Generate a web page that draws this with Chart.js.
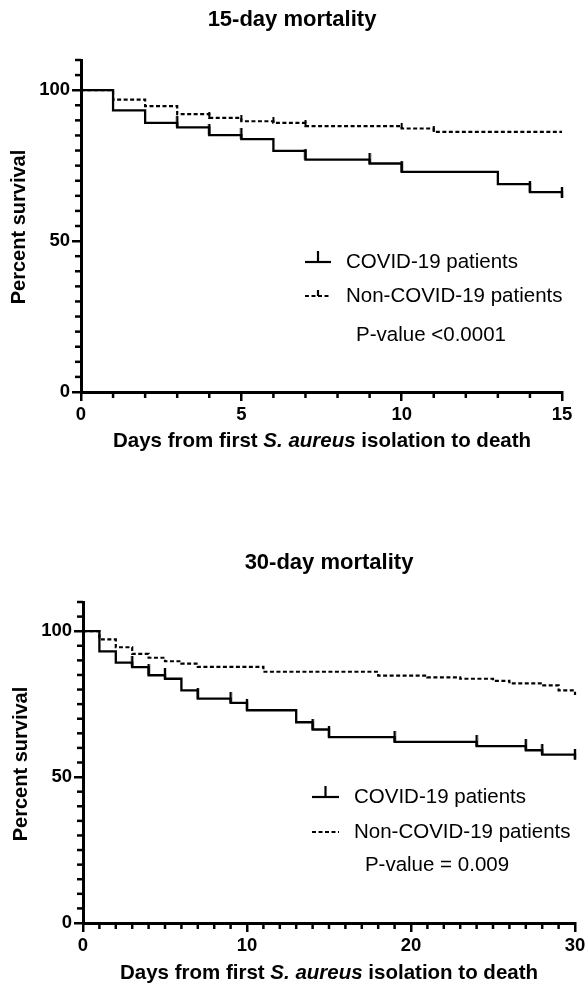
<!DOCTYPE html>
<html>
<head>
<meta charset="utf-8">
<script src="https://cdn.jsdelivr.net/npm/chart.js@4.4.1/dist/chart.umd.min.js"></script>
<style>
  html, body { margin: 0; padding: 0; background: #fff; }
  #wrap { position: relative; width: 585px; height: 994px; }
  canvas { position: absolute; left: 0; }
</style>
</head>
<body>
<div id="wrap">
  <canvas id="c15" width="585" height="470" style="top:0"></canvas>
  <canvas id="c30" width="585" height="524" style="top:470px"></canvas>
</div>
<script>
// ── Data ────────────────────────────────────────────────────
const days15Covid = [0, 1, 2, 3, 4, 5, 6, 7, 9, 10, 13, 14, 15];
const surv15Covid = [100, 93.3, 89.2, 87.7, 85.1, 83.8, 79.9, 77.0, 75.7, 72.9, 68.9, 66.2, 64.3];
const days15Non   = [0, 1, 2, 3, 4, 5, 6, 7, 10, 11, 15];
const surv15Non   = [100, 96.9, 94.7, 92.1, 90.8, 89.7, 89.2, 88.1, 87.3, 86.2, 86.2];
const cens15Covid = [3, 4, 5, 7, 9, 10, 14, 15];
const cens15Non   = [4, 5, 6, 7, 10, 11];

const days30Covid = [0, 1, 2, 3, 4, 5, 6, 7, 9, 10, 13, 14, 15, 19, 24, 27, 28, 30];
const surv30Covid = [100, 93.1, 89.2, 87.7, 84.9, 83.7, 79.7, 76.9, 75.4, 72.9, 68.8, 66.3, 63.7, 62.1, 60.6, 59.2, 57.7, 56.0];
const days30Non   = [0, 1, 2, 3, 4, 5, 6, 7, 11, 18, 21, 23, 25, 26, 28, 29, 30];
const surv30Non   = [100, 97.2, 94.5, 92.2, 90.9, 89.7, 88.9, 87.8, 86.1, 84.8, 84.2, 83.7, 83.0, 82.1, 81.4, 79.7, 78.1];
const cens30Covid = [3, 4, 5, 7, 9, 10, 14, 15, 19, 24, 27, 28, 30];
const cens30Non   = [];

const xTicks15 = [0, 5, 10, 15];
const xTicks30 = [0, 10, 20, 30];
const yTicks   = [0, 50, 100];
const yMax     = 110;

const legendLabels = ['COVID-19 patients', 'Non-COVID-19 patients'];

const FONT = "'Liberation Sans', Arial, Helvetica, sans-serif";

// ── Helpers ─────────────────────────────────────────────────
function tickMark(len, w) {
  const c = document.createElement('canvas');
  c.width = 4; c.height = len * 2;
  const g = c.getContext('2d');
  g.fillStyle = '#000';
  g.fillRect((4 - w) / 2, 0, w, len);
  return c;
}

function survAt(days, surv, t) {
  let v = surv[0];
  days.forEach((d, i) => { if (d <= t) v = surv[i]; });
  return v;
}

function seg(ctx, x1, y1, x2, y2) {
  ctx.beginPath(); ctx.moveTo(x1, y1); ctx.lineTo(x2, y2); ctx.stroke();
}

// ── Decorations: minor ticks, titles, legend ────────────────
const decor = {
  id: 'decor',
  afterDraw(chart) {
    const o = chart.options.plugins.decor;
    const { ctx, chartArea: a, scales: { x, y } } = chart;
    ctx.save();
    ctx.strokeStyle = '#000';
    ctx.fillStyle = '#000';
    ctx.lineWidth = 2.5;

    // minor ticks
    for (let v = 0; v <= o.xMax; v++) {
      if (o.xTicks.includes(v)) continue;
      const px = x.getPixelForValue(v);
      seg(ctx, px, a.bottom, px, a.bottom + 6);
    }
    for (let v = 0; v <= yMax; v += 5) {
      if (yTicks.includes(v)) continue;
      const py = y.getPixelForValue(v);
      seg(ctx, a.left, py, a.left - 6, py);
    }

    // chart title
    ctx.textBaseline = 'middle';
    ctx.textAlign = 'center';
    ctx.font = `bold 22px ${FONT}`;
    ctx.fillText(o.title, o.titleX, o.titleY);

    // y title
    ctx.save();
    ctx.translate(o.yTitleX, o.yTitleY);
    ctx.rotate(-Math.PI / 2);
    ctx.font = `bold 20px ${FONT}`;
    ctx.fillText('Percent survival', 0, 0);
    ctx.restore();

    // x title with italic species name
    const parts = [
      { t: 'Days from first ', f: `bold 20.5px ${FONT}` },
      { t: 'S. aureus', f: `italic bold 20.5px ${FONT}` },
      { t: ' isolation to death', f: `bold 20.5px ${FONT}` }
    ];
    let total = 0;
    parts.forEach(p => { ctx.font = p.f; p.w = ctx.measureText(p.t).width; total += p.w; });
    let xx = o.xTitleX - total / 2;
    ctx.textAlign = 'left';
    parts.forEach(p => { ctx.font = p.f; ctx.fillText(p.t, xx, o.xTitleY); xx += p.w; });

    // legend
    const L = o.legend;
    ctx.lineWidth = 2.2;
    seg(ctx, L.x, L.y1, L.x + L.w, L.y1);
    seg(ctx, L.x + L.w / 2, L.y1, L.x + L.w / 2, L.y1 - 11);
    ctx.setLineDash([4, 2.5]);
    seg(ctx, L.x, L.y2, L.x + L.w, L.y2);
    ctx.setLineDash([]);
    if (L.dashTick) seg(ctx, L.x + L.w / 2, L.y2, L.x + L.w / 2, L.y2 - 6);
    ctx.font = `20.5px ${FONT}`;
    ctx.fillText(legendLabels[0], L.tx, L.y1);
    ctx.fillText(legendLabels[1], L.tx, L.y2);
    ctx.textAlign = 'center';
    ctx.fillText(o.pText, o.pX, o.pY);

    ctx.restore();
  }
};

function makeChart(id, o) {
  const pts = (d, s) => d.map((v, i) => ({ x: v, y: s[i] }));
  const cens = (c, d, s) => c.map(t => ({ x: t, y: survAt(d, s, t) }));
  return new Chart(document.getElementById(id), {
    type: 'line',
    data: {
      datasets: [
        { data: pts(o.cDays, o.cSurv), stepped: 'before', borderColor: '#000',
          borderWidth: 2.3, pointRadius: 0, fill: false, clip: false },
        { type: 'scatter', data: cens(o.cCens, o.cDays, o.cSurv), showLine: false,
          pointStyle: tickMark(11, 2.4), pointRadius: 6, clip: false },
        { data: pts(o.nDays, o.nSurv), stepped: 'before', borderColor: '#000',
          borderWidth: 2.2, borderDash: [4, 2.5], pointRadius: 0, fill: false, clip: false },
        { type: 'scatter', data: cens(o.nCens, o.nDays, o.nSurv), showLine: false,
          pointStyle: tickMark(6, 2), pointRadius: 4, clip: false }
      ]
    },
    options: {
      responsive: false,
      animation: false,
      devicePixelRatio: 1,
      events: [],
      layout: { padding: { top: o.top, right: o.right, left: 0, bottom: 0 } },
      plugins: {
        legend: { display: false },
        tooltip: { enabled: false },
        decor: o.decor
      },
      scales: {
        x: {
          type: 'linear', min: 0, max: o.decor.xMax,
          afterBuildTicks: s => { s.ticks = o.decor.xTicks.map(v => ({ value: v })); },
          afterFit: s => { s.height = o.xH; s.paddingLeft = 0; s.paddingRight = 0; },
          grid: { drawOnChartArea: false, color: '#000', lineWidth: 2.5, tickLength: 9 },
          border: { color: '#000', width: 3 },
          ticks: { color: '#000', padding: 3, maxRotation: 0,
                   font: { family: FONT, size: 18.5, weight: 'bold' } }
        },
        y: {
          type: 'linear', min: 0, max: yMax,
          afterBuildTicks: s => { s.ticks = yTicks.map(v => ({ value: v })); },
          afterFit: s => { s.width = o.left; s.paddingTop = 0; s.paddingBottom = 0; },
          grid: { drawOnChartArea: false, color: '#000', lineWidth: 2.5, tickLength: 9 },
          border: { color: '#000', width: 3 },
          ticks: { color: '#000', padding: 2,
                   font: { family: FONT, size: 18.5, weight: 'bold' } }
        }
      }
    },
    plugins: [decor]
  });
}

// ── 15-day chart ────────────────────────────────────────────
makeChart('c15', {
  cDays: days15Covid, cSurv: surv15Covid, cCens: cens15Covid,
  nDays: days15Non, nSurv: surv15Non, nCens: cens15Non,
  top: 60, right: 23, left: 81, xH: 78,
  decor: {
    xMax: 15, xTicks: xTicks15,
    title: '15-day mortality', titleX: 292, titleY: 20,
    yTitleX: 19, yTitleY: 227,
    xTitleX: 322, xTitleY: 441,
    legend: { x: 305, w: 26, y1: 262, y2: 296, tx: 346, dashTick: true },
    pText: 'P-value <0.0001', pX: 431, pY: 335
  }
});

// ── 30-day chart ────────────────────────────────────────────
makeChart('c30', {
  cDays: days30Covid, cSurv: surv30Covid, cCens: cens30Covid,
  nDays: days30Non, nSurv: surv30Non, nCens: cens30Non,
  top: 132, right: 10, left: 83, xH: 71,
  decor: {
    xMax: 30, xTicks: xTicks30,
    title: '30-day mortality', titleX: 329, titleY: 93,
    yTitleX: 21, yTitleY: 294,
    xTitleX: 329, xTitleY: 503,
    legend: { x: 312, w: 27, y1: 327, y2: 362, tx: 354, dashTick: false },
    pText: 'P-value = 0.009', pX: 437, pY: 395
  }
});
</script>
</body>
</html>
